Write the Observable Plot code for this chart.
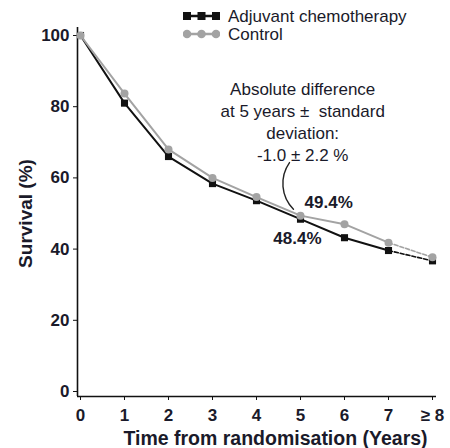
<!DOCTYPE html>
<html>
<head>
<meta charset="utf-8">
<script src="https://cdn.jsdelivr.net/npm/d3@7"></script>
<script src="https://cdn.jsdelivr.net/npm/@observablehq/plot@0.6"></script>
<style>
  html, body { margin: 0; padding: 0; background: #fff; }
  #wrap { position: relative; width: 450px; height: 448px; font-family: "Liberation Sans", Arial, sans-serif; }
  #legend { position: absolute; left: 183px; top: 7px; font-size: 17px; color: #1a1a2a; }
  .row { display: flex; align-items: center; height: 18px; }
  .row svg { margin-right: 8px; flex: none; }
  .row span { display: block; height: 17px; line-height: 17px; overflow: visible; white-space: nowrap; }
</style>
</head>
<body>
<div id="wrap"></div>
<script>
const years = [0, 1, 2, 3, 4, 5, 6, 7, 8];
const chemo = [100, 81, 66, 58.4, 53.6, 48.4, 43.2, 39.6, 36.7];
const control = [100, 83.7, 68, 60, 54.6, 49.4, 47, 41.8, 37.7];
const seriesNames = ["Adjuvant chemotherapy", "Control"];
const seriesColors = ["#111111", "#a3a3a3"];
const yTicks = [0, 20, 40, 60, 80, 100];
const xTickLabels = ["0", "1", "2", "3", "4", "5", "6", "7", "\u2265 8"];
const noteText = ["Absolute difference\nat 5 years \u00b1  standard\ndeviation:\n-1.0 \u00b1 2.2 %"];
const noteX = [5.05];
const noteY = [76];
const valueLabels = ["49.4%", "48.4%"];
const valueLabelX = [5.64, 4.93];
const valueLabelY = [53.1, 43];
const arrowFrom = [4.75, 64.3];
const arrowTo = [4.84, 51.2];

const rows = [];
years.forEach((yr, i) => {
  rows.push({series: seriesNames[0], year: yr, value: chemo[i]});
});
years.forEach((yr, i) => {
  rows.push({series: seriesNames[1], year: yr, value: control[i]});
});
const solid = rows.filter(d => d.year <= 7);
const dashed = rows.filter(d => d.year >= 7);
const chemoRows = rows.filter(d => d.series === seriesNames[0]);
const ctrlRows = rows.filter(d => d.series === seriesNames[1]);

const font = "Liberation Sans, Arial, sans-serif";
const ink = "#1a1a2a";

const chart = Plot.plot({
  width: 450,
  height: 448,
  marginLeft: 80,
  marginRight: 18,
  marginTop: 35,
  marginBottom: 57,
  style: {fontFamily: font, background: "#fff"},
  x: {domain: [0, 8]},
  y: {domain: [0, 100]},
  color: {domain: seriesNames, range: seriesColors},
  marks: [
    Plot.ruleX([0], {dx: -3, insetTop: -8, insetBottom: -5, stroke: "#111", strokeWidth: 1.6}),
    Plot.ruleY([0], {dy: 5, insetLeft: -3, insetRight: -4, stroke: "#111", strokeWidth: 1.6}),
    Plot.axisY({ticks: yTicks, tickSize: 4, dx: -3, tickPadding: 4, label: null,
      fontSize: 17, fontWeight: "bold", fill: ink, stroke: "#111"}),
    Plot.axisX({ticks: years, tickSize: 4, dy: 5, tickPadding: 8, label: null,
      tickFormat: (d, i) => xTickLabels[years.indexOf(d)],
      fontSize: 17, fontWeight: "bold", fill: ink, stroke: "#111"}),
    Plot.text(["Time from randomisation (Years)"], {frameAnchor: "bottom", dy: 47, dx: 19,
      lineAnchor: "middle", textAnchor: "middle",
      fontSize: 19.5, fontWeight: "bold", fill: ink}),
    Plot.text(["Survival (%)"], {frameAnchor: "left", dx: -55, rotate: -90,
      lineAnchor: "middle", textAnchor: "middle",
      fontSize: 19, fontWeight: "bold", fill: ink}),
    Plot.line(solid.filter(d => d.series === seriesNames[0]), {x: "year", y: "value", stroke: seriesColors[0], strokeWidth: 2}),
    Plot.line(dashed.filter(d => d.series === seriesNames[0]), {x: "year", y: "value", stroke: seriesColors[0], strokeWidth: 1.6, strokeDasharray: "4,2"}),
    Plot.dot(chemoRows, {x: "year", y: "value", symbol: "square", r: 4, fill: seriesColors[0], stroke: "none"}),
    Plot.line(solid.filter(d => d.series === seriesNames[1]), {x: "year", y: "value", stroke: seriesColors[1], strokeWidth: 2}),
    Plot.line(dashed.filter(d => d.series === seriesNames[1]), {x: "year", y: "value", stroke: seriesColors[1], strokeWidth: 1.6, strokeDasharray: "4,2"}),
    Plot.dot(ctrlRows, {x: "year", y: "value", r: 4, fill: seriesColors[1], stroke: "none"}),
    Plot.text(noteText, {x: noteX, y: noteY, fontSize: 17, lineHeight: 1.28, fill: ink, lineAnchor: "middle"}),
    Plot.arrow([0], {x1: arrowFrom[0], y1: arrowFrom[1], x2: arrowTo[0], y2: arrowTo[1],
      bend: -40, headLength: 0, stroke: "#222", strokeWidth: 1.4}),
    Plot.text(valueLabels, {x: valueLabelX, y: valueLabelY, fontSize: 17, fontWeight: "bold", fill: ink})
  ]
});

const wrap = document.getElementById("wrap");
wrap.appendChild(chart);

const legend = document.createElement("div");
legend.id = "legend";
seriesNames.forEach((name, i) => {
  const row = document.createElement("div");
  row.className = "row";
  const sw = d3.create("svg").attr("width", 37).attr("height", 12);
  sw.append("line").attr("x1", 2).attr("x2", 35).attr("y1", 6).attr("y2", 6)
    .attr("stroke", seriesColors[i]).attr("stroke-width", 2.5);
  [4, 18.5, 33].forEach(cx => {
    if (i === 0) sw.append("rect").attr("x", cx - 4).attr("y", 2).attr("width", 8).attr("height", 8).attr("fill", seriesColors[i]);
    else sw.append("circle").attr("cx", cx).attr("cy", 6).attr("r", 4.3).attr("fill", seriesColors[i]);
  });
  row.appendChild(sw.node());
  const t = document.createElement("span");
  t.textContent = name;
  row.appendChild(t);
  legend.appendChild(row);
});
wrap.appendChild(legend);
</script>
</body>
</html>
